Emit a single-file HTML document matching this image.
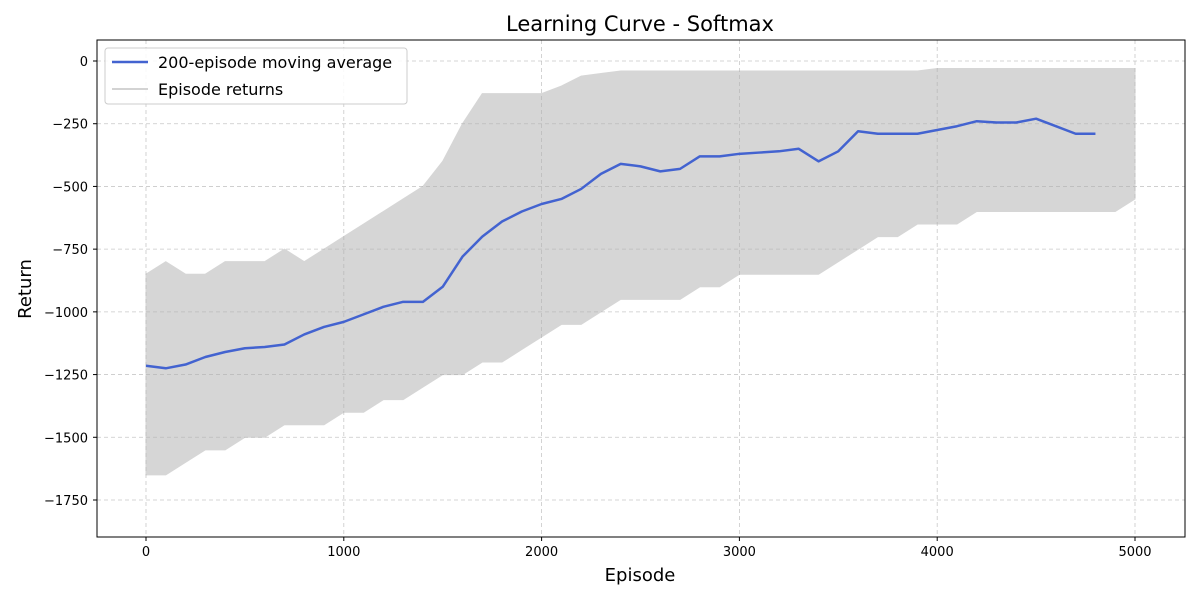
<!DOCTYPE html>
<html><head><meta charset="utf-8"><style>
body{margin:0;background:#fff;font-family:"Liberation Sans","DejaVu Sans",sans-serif}
svg text{font-family:"DejaVu Sans","Liberation Sans",sans-serif}
</style></head><body>
<svg id="chart" width="1200" height="600">
<rect x="0" y="0" width="1200" height="600" fill="#fff"/>
<g id="band"></g>
<g id="grid"></g>
<g id="avg"></g>
<rect x="97" y="40" width="1088" height="497" fill="none" stroke="#000" stroke-width="1"/>
<g id="axes"></g>
<text x="640" y="31" font-size="21" text-anchor="middle">Learning Curve - Softmax</text>
<text x="640" y="581" font-size="18" text-anchor="middle">Episode</text>
<text x="31" y="289" font-size="18" text-anchor="middle" transform="rotate(-90 31 289)">Return</text>
<g>
<rect x="105" y="48" width="302" height="56" rx="3" fill="#fff" fill-opacity="0.85" stroke="#ccc"/>
<line x1="112" y1="62" x2="148" y2="62" stroke="#4363d0" stroke-width="2.5"/>
<text x="158" y="68" font-size="16">200-episode moving average</text>
<line x1="112" y1="89" x2="148" y2="89" stroke="#d3d3d3" stroke-width="2"/>
<text x="158" y="95" font-size="16">Episode returns</text>
</g>
</svg>
<script>
const xTicks=[0,1000,2000,3000,4000,5000];
const yTicks=[0,-250,-500,-750,-1000,-1250,-1500,-1750];
const bandEpisodes=[0,100,200,300,400,500,600,700,800,900,1000,1100,1200,1300,1400,1500,1600,1700,1800,1900,2000,2100,2200,2300,2400,2500,2600,2700,2800,2900,3000,3100,3200,3300,3400,3500,3600,3700,3800,3900,4000,4100,4200,4300,4400,4500,4600,4700,4800,4900,5000];
const returnsHigh=[-850,-800,-850,-850,-800,-800,-800,-750,-800,-750,-700,-650,-600,-550,-500,-400,-250,-130,-130,-130,-130,-100,-60,-50,-40,-40,-40,-40,-40,-40,-40,-40,-40,-40,-40,-40,-40,-40,-40,-40,-30,-30,-30,-30,-30,-30,-30,-30,-30,-30,-30];
const returnsLow=[-1650,-1650,-1600,-1550,-1550,-1500,-1500,-1450,-1450,-1450,-1400,-1400,-1350,-1350,-1300,-1250,-1250,-1200,-1200,-1150,-1100,-1050,-1050,-1000,-950,-950,-950,-950,-900,-900,-850,-850,-850,-850,-850,-800,-750,-700,-700,-650,-650,-650,-600,-600,-600,-600,-600,-600,-600,-600,-550];
const avgEpisodes=[0,100,200,300,400,500,600,700,800,900,1000,1100,1200,1300,1400,1500,1600,1700,1800,1900,2000,2100,2200,2300,2400,2500,2600,2700,2800,2900,3000,3100,3200,3300,3400,3500,3600,3700,3800,3900,4000,4100,4200,4300,4400,4500,4600,4700,4800];
const avgValues=[-1215,-1225,-1210,-1180,-1160,-1145,-1140,-1130,-1090,-1060,-1040,-1010,-980,-960,-960,-900,-780,-700,-640,-600,-570,-550,-510,-450,-410,-420,-440,-430,-380,-380,-370,-365,-360,-350,-400,-360,-280,-290,-290,-290,-275,-260,-240,-245,-245,-230,-260,-290,-290];
const NS="http://www.w3.org/2000/svg";
const X=v=>146+v*(989/5000);
const Y=v=>61-v*(439/1750);
function mk(t,a,p){const e=document.createElementNS(NS,t);for(const k in a)e.setAttribute(k,a[k]);p.appendChild(e);return e;}
const grid=document.getElementById('grid'),axes=document.getElementById('axes');
xTicks.forEach(v=>{
 const g=mk('line',{x1:X(v),x2:X(v),y1:40,y2:537,stroke:'#b0b0b0','stroke-width':0.8,'stroke-dasharray':'4,3','stroke-opacity':0.7},grid);
 
 
 mk('line',{x1:X(v),x2:X(v),y1:537,y2:541,stroke:'#000'},axes);
 const t=mk('text',{x:X(v),y:556,'font-size':13,'text-anchor':'middle'},axes);t.textContent=v;
 
 
});
yTicks.forEach(v=>{
 const g=mk('line',{x1:97,x2:1185,y1:Y(v),y2:Y(v),stroke:'#b0b0b0','stroke-width':0.8,'stroke-dasharray':'4,3','stroke-opacity':0.7},grid);
 
 
 mk('line',{x1:93,x2:97,y1:Y(v),y2:Y(v),stroke:'#000'},axes);
 const t=mk('text',{x:88,y:Y(v)+5,'font-size':13,'text-anchor':'end'},axes);t.textContent=String(v).replace('-','\u2212');
 
 
});
let d='';
bandEpisodes.forEach((e,i)=>{d+=(i?'L':'M')+X(e)+','+Y(returnsHigh[i]);});
for(let i=bandEpisodes.length-1;i>=0;i--)d+='L'+X(bandEpisodes[i])+','+Y(returnsLow[i]);
const band=mk('path',{d:d+'Z',fill:'#d6d6d6',stroke:'#d6d6d6'},document.getElementById('band'));


let a='';
avgEpisodes.forEach((e,i)=>{a+=(i?'L':'M')+X(e)+','+Y(avgValues[i]);});
const avg=mk('path',{d:a,fill:'none',stroke:'#4363d0','stroke-width':2.5,'stroke-linejoin':'round'},document.getElementById('avg'));


</script>
</body></html>
